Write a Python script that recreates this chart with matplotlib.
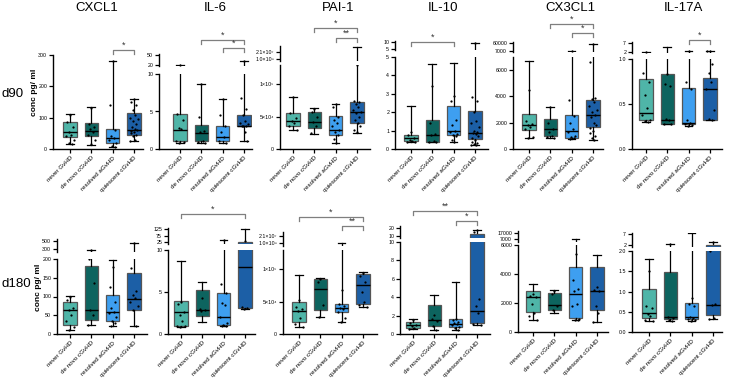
import matplotlib
matplotlib.use('Agg')
import matplotlib.pyplot as plt
from matplotlib.patches import Rectangle
from matplotlib.transforms import blended_transform_factory

plt.rcParams['font.family'] = ['Liberation Sans', 'DejaVu Sans']

W, H = 729, 382
fig = plt.figure(figsize=(W / 100, H / 100), dpi=100)

groups = ['never GvHD', 'de novo cGvHD', 'resolved aGvHD', 'quiescent cGvHD']
colors = ['#4fb5a8', '#0d645f', '#3e9ff0', '#1c5fa6']
cytokines = ['CXCL1', 'IL-6', 'PAI-1', 'IL-10', 'CX3CL1', 'IL-17A']
timepoints = ['d90', 'd180']
ylabel = 'conc pg/ ml'

# box stats per group: [whislo, q1, median, q3, whishi]
cxcl1_d90_box = [[15, 38, 55, 85, 113], [12, 42, 58, 82, 135], [5, 20, 35, 65, 280], [25, 45, 62, 115, 160]]
cxcl1_d90_pts = [[110, 85, 70, 55, 45, 40, 30, 20, 15], [130, 80, 70, 65, 55, 45, 30, 15],
                 [280, 140, 60, 40, 35, 30, 20, 10, 5],
                 [160, 150, 140, 125, 110, 100, 95, 90, 80, 70, 65, 60, 58, 55, 50, 45, 40, 30, 25]]
il6_d90_box = [[0.8, 1.0, 2.5, 4.6, 20], [0.8, 1.0, 2.1, 3.2, 8.7], [0.8, 1.0, 1.6, 3.1, 6.7], [1.0, 3.0, 3.1, 4.5, 33]]
il6_d90_pts = [[20, 4.6, 3.8, 2.8, 2.6, 1.0, 0.9, 0.8], [8.7, 4.3, 2.4, 2.2, 1.1, 0.9, 0.8],
               [6.7, 4.5, 3.1, 2.2, 1.6, 1.0, 0.8],
               [33, 6.8, 5.3, 4.5, 3.7, 3.5, 3.3, 3.1, 3.0, 3.0, 2.3, 1.0]]
pai1_d90_box = [[2.9e4, 3.6e4, 4.4e4, 5.6e4, 8.1e4], [2.3e4, 3.2e4, 4.2e4, 5.8e4, 6.3e4],
                [0.9e4, 2.2e4, 3.0e4, 5.1e4, 7.0e4], [2.5e4, 4.1e4, 5.8e4, 7.3e4, 3.5e7]]
pai1_d90_pts = [[8e4, 5.5e4, 4.8e4, 4.4e4, 4e4, 3.5e4, 3e4], [6.2e4, 5.8e4, 5e4, 4.2e4, 3.5e4, 2.5e4],
                [7e4, 6.5e4, 5e4, 4.5e4, 4e4, 3.5e4, 3e4, 2.6e4, 2.2e4, 1.5e4, 0.9e4],
                [1.3e5, 7.5e4, 7.2e4, 7e4, 6.5e4, 6e4, 5.8e4, 5.5e4, 5e4, 4.5e4, 4e4, 3.5e4, 3e4, 2.6e4]]
il10_d90_box = [[0.4, 0.45, 0.6, 0.75, 2.35], [0.4, 0.4, 0.75, 1.55, 4.6], [0.38, 0.75, 1.0, 2.35, 4.7],
                [0.2, 0.55, 0.85, 2.05, 9.5]]
il10_d90_pts = [[0.9, 0.75, 0.6, 0.5, 0.45, 0.4, 0.4], [3.45, 1.4, 0.8, 0.75, 0.45, 0.4, 0.4],
                [2.9, 2.6, 1.6, 1.3, 1.0, 0.9, 0.8, 0.75, 0.7, 0.5, 0.38],
                [9.5, 2.8, 2.6, 2.0, 1.5, 1.4, 1.2, 1.0, 0.9, 0.85, 0.8, 0.7, 0.6, 0.5, 0.4, 0.3, 0.25, 0.2, 0.2]]
cx3cl1_d90_box = [[800, 1450, 1850, 2700, 6700], [800, 1000, 1500, 2250, 3200], [750, 850, 1350, 2600, 10000],
                  [700, 1650, 2600, 3750, 55000]]
cx3cl1_d90_pts = [[4500, 2100, 1900, 1800, 1700, 1500, 900, 800], [3200, 2000, 1500, 1300, 1000, 900, 800],
                  [10000, 3700, 2500, 2000, 1500, 1300, 1000, 900, 800, 750],
                  [55000, 6600, 3900, 3800, 3600, 3300, 3000, 2800, 2600, 2400, 2000, 1800, 1600, 1400, 1200,
                   1000, 800, 700]]
il17a_d90_box = [[0.3, 0.32, 0.4, 0.78, 2.2], [0.28, 0.28, 0.32, 0.83, 5.0], [0.26, 0.28, 0.29, 0.68, 2.3],
                 [0.32, 0.32, 0.67, 0.79, 2.6]]
il17a_d90_pts = [[2.2, 0.85, 0.75, 0.6, 0.45, 0.38, 0.32, 0.31, 0.3], [0.83, 0.72, 0.7, 0.33, 0.32, 0.28, 0.28],
                 [2.3, 0.74, 0.67, 0.32, 0.29, 0.28, 0.27, 0.26],
                 [2.5, 2.3, 0.95, 0.85, 0.75, 0.67, 0.43, 0.33, 0.32]]

cxcl1_d180_box = [[12, 25, 65, 85, 102], [25, 38, 63, 182, 270], [22, 35, 60, 105, 197], [22, 65, 93, 162, 450]]
cxcl1_d180_pts = [[100, 90, 70, 65, 50, 35, 20, 12], [270, 200, 135, 63, 50, 25],
                  [180, 125, 85, 70, 60, 55, 45, 35, 30, 22], [450, 175, 115, 105, 95, 85, 75, 65, 22]]
il6_d180_box = [[0.8, 1.0, 2.6, 3.9, 8.7], [1.4, 2.1, 2.9, 5.2, 6.2], [1.0, 1.1, 2.0, 4.9, 40],
                [3.0, 3.1, 8.0, 25, 125]]
il6_d180_pts = [[3.8, 3.6, 2.6, 2.3, 1.5, 1.0, 0.9, 0.8], [4.3, 3.0, 2.9, 2.7],
                [40, 6.0, 4.9, 3.7, 3.5, 2.0, 1.3, 1.1, 1.0, 1.0], [30, 3.2, 3.1, 3.0]]
pai1_d180_box = [[1.1e4, 1.9e4, 3.6e4, 4.9e4, 9.2e4], [2.7e4, 3.7e4, 7.0e4, 8.5e4, 8.7e4],
                 [1.9e4, 3.4e4, 4.0e4, 4.7e4, 1.0e6], [4.2e4, 4.6e4, 7.6e4, 9.3e4, 9.6e4]]
pai1_d180_pts = [[5.2e4, 4.2e4, 3.8e4, 3.6e4, 2.5e4, 1.5e4, 1.1e4], [8.5e4, 8e4, 4.5e4, 2.7e4],
                 [6.8e4, 4.7e4, 4.3e4, 4e4, 3.8e4, 3.4e4, 2.5e4, 1.9e4],
                 [9.5e4, 9e4, 8e4, 6.5e4, 5e4, 4.5e4, 4.2e4]]
il10_d180_box = [[0.5, 0.7, 0.95, 1.3, 1.6], [0.4, 0.9, 1.5, 3.1, 4.2], [0.4, 0.75, 1.1, 1.6, 5.6],
                 [1.0, 1.15, 2.5, 12, 18]]
il10_d180_pts = [[1.5, 1.2, 1.0, 0.9, 0.6, 0.5], [2.1, 1.6, 1.4, 0.9, 0.4],
                 [1.6, 1.5, 1.3, 1.2, 1.1, 1.0, 0.8, 0.6, 0.4], [17, 15, 3.8, 3.0, 2.3, 1.1, 1.0]]
cx3cl1_d180_box = [[800, 1400, 2400, 2800, 3300], [1300, 1500, 1850, 2700, 2900], [850, 950, 2650, 4500, 7000],
                   [700, 1500, 2800, 4500, 5300]]
cx3cl1_d180_pts = [[2600, 2500, 2400, 1900, 1300, 1100, 800], [2800, 2600, 1800, 1500],
                   [5400, 3600, 3000, 2800, 1900, 1800, 900, 850, 850], [3100, 2900, 2800, 1800, 1300, 700]]
il17a_d180_box = [[0.28, 0.35, 0.47, 1.07, 1.8], [0.28, 0.32, 0.37, 1.48, 2.3], [0.28, 0.32, 0.36, 0.72, 7.5],
                  [0.32, 0.42, 0.67, 2.2, 3.5]]
il17a_d180_pts = [[1.5, 0.65, 0.6, 0.45, 0.4, 0.3, 0.28], [2.3, 0.38, 0.35, 0.3, 0.28],
                  [0.85, 0.7, 0.65, 0.38, 0.35, 0.32, 0.3, 0.28], [3.2, 2.0, 0.68, 0.67, 0.35, 0.32]]

# significance brackets: (group_i, group_j, label)
sig_d90 = {'CXCL1': [(2, 3, '*')], 'IL-6': [(1, 3, '*'), (2, 3, '*')], 'PAI-1': [(1, 3, '*'), (2, 3, '**')],
           'IL-10': [(0, 2, '*')], 'CX3CL1': [(1, 3, '*'), (2, 3, '*')], 'IL-17A': [(2, 3, '*')]}
sig_d180 = {'IL-6': [(0, 3, '*')], 'PAI-1': [(0, 3, '*'), (2, 3, '**')], 'IL-10': [(0, 3, '**'), (2, 3, '*')]}

# ---------------- layout (pixel based) ----------------
SP = 21.3  # px per group

panels = [
    # d90 row
    dict(name='CXCL1', row=0, box=cxcl1_d90_box, pts=cxcl1_d90_pts, L=53, R=143, B=149, T=55, first=70,
         ylim=(0, 300), ticks=[0, 100, 200, 300], tl=None, up=None, sig_y=[50]),
    dict(name='IL-6', row=0, box=il6_d90_box, pts=il6_d90_pts, L=159, R=252, B=149, T=74, first=180,
         ylim=(0, 10), ticks=[0, 5, 10], tl=None,
         up=dict(B=66, T=54, ylim=(17, 53), ticks=[20, 50], tl=None), sig_y=[40, 48]),
    dict(name='PAI-1', row=0, box=pai1_d90_box, pts=pai1_d90_pts, L=280, R=370, B=149, T=65, first=293,
         ylim=(0, 1.3e5), ticks=[0, 5e4, 1e5], tl=['0', '5×10⁴', '1×10⁵'],
         up=dict(B=61, T=46, ylim=(-4.7e6, 3.8e7), ticks=[1e6, 2.1e7], tl=['1.0×10⁶', '2.1×10⁷']),
         sig_y=[28, 38]),
    dict(name='IL-10', row=0, box=il10_d90_box, pts=il10_d90_pts, L=395, R=488, B=149, T=57, first=411,
         ylim=(0, 5), ticks=[0, 1, 2, 3, 4, 5], tl=None,
         up=dict(B=50, T=41, ylim=(4.3, 10.7), ticks=[5, 10], tl=None), sig_y=[42]),
    dict(name='CX3CL1', row=0, box=cx3cl1_d90_box, pts=cx3cl1_d90_pts, L=513, R=603, B=149, T=57, first=529,
         ylim=(0, 7000), ticks=[0, 2000, 4000, 6000], tl=None,
         up=dict(B=52, T=42, ylim=(400, 66600), ticks=[7000, 60000], tl=None), sig_y=[24, 33]),
    dict(name='IL-17A', row=0, box=il17a_d90_box, pts=il17a_d90_pts, L=632, R=722, B=149, T=59, first=646,
         ylim=(0, 1.0), ticks=[0, 0.5, 1.0], tl=['0.0', '0.5', '1.0'],
         up=dict(B=53, T=42, ylim=(1.44, 7.56), ticks=[2, 7], tl=None), sig_y=[40]),
    # d180 row
    dict(name='CXCL1', row=1, box=cxcl1_d180_box, pts=cxcl1_d180_pts, L=57, R=147, B=334, T=259, first=70,
         ylim=(0, 200), ticks=[0, 50, 100, 150, 200], tl=None,
         up=dict(B=252, T=239, ylim=(225, 550), ticks=[300, 500], tl=None), sig_y=[]),
    dict(name='IL-6', row=1, box=il6_d180_box, pts=il6_d180_pts, L=168, R=255, B=334, T=250, first=181,
         ylim=(0, 10), ticks=[0, 5, 10], tl=None,
         up=dict(B=244, T=228, ylim=(10, 133), ticks=[25, 75, 125], tl=None), sig_y=[214]),
    dict(name='PAI-1', row=1, box=pai1_d180_box, pts=pai1_d180_pts, L=283, R=377, B=334, T=250, first=299,
         ylim=(0, 1.3e5), ticks=[0, 5e4, 1e5], tl=['0', '5×10⁴', '1×10⁵'],
         up=dict(B=246, T=232, ylim=(-7.6e6, 3.24e7), ticks=[1e6, 2.1e7], tl=['1.0×10⁶', '2.1×10⁷']),
         sig_y=[217, 226]),
    dict(name='IL-10', row=1, box=il10_d180_box, pts=il10_d180_pts, L=400, R=490, B=334, T=242, first=413,
         ylim=(0, 10), ticks=[0, 2, 4, 6, 8, 10], tl=None,
         up=dict(B=238, T=226, ylim=(7.5, 22.5), ticks=[10, 20], tl=None), sig_y=[211, 221]),
    dict(name='CX3CL1', row=1, box=cx3cl1_d180_box, pts=cx3cl1_d180_pts, L=518, R=608, B=332, T=245, first=533,
         ylim=(0, 6000), ticks=[0, 2000, 4000, 6000], tl=None,
         up=dict(B=242, T=231, ylim=(2000, 20333), ticks=[7000, 17000], tl=None), sig_y=[]),
    dict(name='IL-17A', row=1, box=il17a_d180_box, pts=il17a_d180_pts, L=632, R=722, B=332, T=251, first=649,
         ylim=(0, 2.0), ticks=[0, 0.5, 1.0, 1.5, 2.0], tl=['0.0', '0.5', '1.0', '1.5', '2.0'],
         up=dict(B=247, T=233, ylim=(1.09, 7.45), ticks=[2, 7], tl=None), sig_y=[]),
]

jitter = [0.0, -0.12, 0.12, -0.06, 0.06, -0.17, 0.17, -0.03, 0.09, -0.09, 0.03, 0.14, -0.14]

TICK_FS = 3.8
XT_FS = 4.5
BOXW = 0.62
CAPW = 0.36
EDGE = '#555555'


def add_px_axes(L, R, T, B):
    return fig.add_axes([L / W, 1 - B / H, (R - L) / W, (B - T) / H])


def tick_label(v):
    if float(v).is_integer():
        return str(int(v))
    return str(v)


def draw_points(ax, pts, lo=None):
    for gi, vals in enumerate(pts):
        xs = [gi + 1 + jitter[k % len(jitter)] for k in range(len(vals))]
        ys = list(vals)
        if lo is not None:
            keep = [k for k in range(len(ys)) if ys[k] > lo]
            xs = [xs[k] for k in keep]
            ys = [ys[k] for k in keep]
        if ys:
            ax.scatter(xs, ys, s=2.6, color='black', zorder=5, linewidths=0)


def draw_boxes(ax, box, pts):
    stats = []
    for b in box:
        stats.append(dict(whislo=b[0], q1=b[1], med=b[2], q3=b[3], whishi=b[4], fliers=[]))
    res = ax.bxp(stats, positions=[1, 2, 3, 4], widths=BOXW, patch_artist=True, showfliers=False,
                 capwidths=CAPW,
                 boxprops=dict(edgecolor=EDGE, linewidth=0.9),
                 medianprops=dict(color='black', linewidth=1.0),
                 whiskerprops=dict(color='black', linewidth=0.9),
                 capprops=dict(color='black', linewidth=0.9))
    for patch, c in zip(res['boxes'], colors):
        patch.set_facecolor(c)
    draw_points(ax, pts)


def draw_upper(ax, box, pts, cut, lo, hi):
    # only the parts above the main axis' top (cut) appear in the upper segment
    span = hi - lo
    below = lo - span
    for gi, (b, c) in enumerate(zip(box, colors)):
        x = gi + 1
        wl, q1, med, q3, wh = b
        if wh > cut:
            ax.plot([x, x], [below, wh], color='black', lw=0.9, zorder=2)
            ax.plot([x - CAPW / 2, x + CAPW / 2], [wh, wh], color='black', lw=0.9, zorder=3)
        if q3 > cut:
            y0 = below if q1 < cut else q1
            ax.add_patch(Rectangle((x - BOXW / 2, y0), BOXW, q3 - y0, facecolor=c, edgecolor=EDGE,
                                   lw=0.9, zorder=3))
            if med > cut:
                ax.plot([x - BOXW / 2, x + BOXW / 2], [med, med], color='black', lw=1.0, zorder=4)
    draw_points(ax, pts, cut)


for p in panels:
    xl = 1 - (p['first'] - p['L']) / SP
    xr = xl + (p['R'] - p['L']) / SP
    ax = add_px_axes(p['L'], p['R'], p['T'], p['B'])
    draw_boxes(ax, p['box'], p['pts'])
    ax.set_xlim(xl, xr)
    ax.set_ylim(*p['ylim'])
    ax.set_yticks(p['ticks'])
    ax.set_yticklabels(p['tl'] if p['tl'] else [tick_label(t) for t in p['ticks']])
    ax.set_xticks([1, 2, 3, 4])
    ax.set_xticklabels(groups, rotation=45, ha='right', va='top', rotation_mode='anchor', fontsize=XT_FS)
    for s in ['top', 'right']:
        ax.spines[s].set_visible(False)
    for s in ['left', 'bottom']:
        ax.spines[s].set_linewidth(1.0)
    ax.tick_params(axis='y', labelsize=TICK_FS, length=3, width=0.9, pad=1.2)
    ax.tick_params(axis='x', length=3, width=0.9, pad=1.5)
    ax.patch.set_alpha(0)

    if p['up']:
        u = p['up']
        ua = add_px_axes(p['L'], p['R'], u['T'], u['B'])
        draw_upper(ua, p['box'], p['pts'], p['ylim'][1], u['ylim'][0], u['ylim'][1])
        ua.set_xlim(xl, xr)
        ua.set_ylim(*u['ylim'])
        ua.set_yticks(u['ticks'])
        ua.set_yticklabels(u['tl'] if u['tl'] else [tick_label(t) for t in u['ticks']])
        ua.set_xticks([])
        for s in ['top', 'right', 'bottom']:
            ua.spines[s].set_visible(False)
        ua.spines['left'].set_linewidth(1.0)
        ua.tick_params(axis='y', labelsize=TICK_FS, length=3, width=0.9, pad=1.2)
        ua.patch.set_alpha(0)

    sig = (sig_d90 if p['row'] == 0 else sig_d180).get(p['name'], [])
    tr = blended_transform_factory(ax.transData, fig.transFigure)
    for (i, j, lab), ypx in zip(sig, p['sig_y']):
        y = 1 - ypx / H
        dy = 4 / H
        ax.plot([i + 1, i + 1, j + 1, j + 1], [y - dy, y, y, y - dy], transform=tr, color='#7f7f7f',
                linewidth=0.9, clip_on=False)
        ax.text((i + j) / 2 + 1, y + 0.5 / H, lab, transform=tr, ha='center', va='bottom',
                fontsize=6.5, color='#333333')

# titles
title_x = [97, 215, 338, 443, 570, 683]
for name, tx in zip(cytokines, title_x):
    fig.text(tx / W, 1 - 8 / H, name, ha='center', va='center', fontsize=9.5)

# row labels
fig.text(13 / W, 1 - 94 / H, timepoints[0], ha='center', va='center', fontsize=9.5)
fig.text(16 / W, 1 - 284 / H, timepoints[1], ha='center', va='center', fontsize=9.5)
fig.text(35 / W, 1 - 92 / H, ylabel, rotation=90, ha='center', va='center', fontsize=6, fontweight='bold')
fig.text(39 / W, 1 - 287 / H, ylabel, rotation=90, ha='center', va='center', fontsize=6, fontweight='bold')

fig.savefig('out.png', dpi=100)
